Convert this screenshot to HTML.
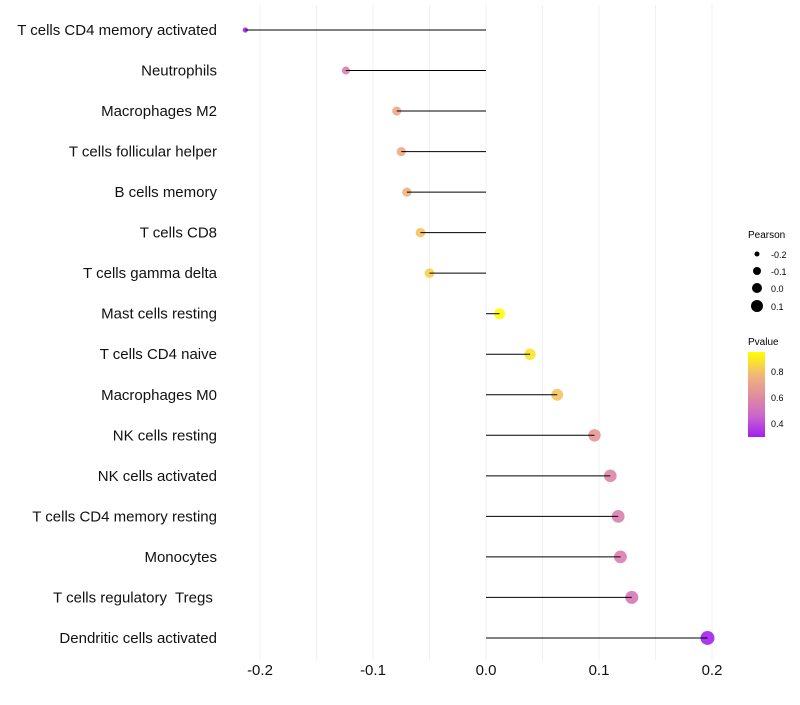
<!DOCTYPE html>
<html><head><meta charset="utf-8"><style>
body{margin:0;background:#fff;font-family:"Liberation Sans",sans-serif;}
svg text{font-family:"Liberation Sans",sans-serif;white-space:pre;}
</style></head><body>
<svg id="chart" width="800" height="700">
<defs><linearGradient id="pg" x1="0" y1="1" x2="0" y2="0">
<stop offset="0" stop-color="#a020f0"/><stop offset="0.25" stop-color="#cc66cc"/>
<stop offset="0.47" stop-color="#e08aa0"/><stop offset="0.7" stop-color="#f0b080"/>
<stop offset="1" stop-color="#ffff00"/></linearGradient></defs>
<g id="grid"></g><g id="marks"></g><g id="labels"></g><g id="ticks"></g>
<g>
<text x="748" y="238" font-size="10">Pearson</text>
<circle cx="757" cy="254" r="2.5" fill="#000"/><text x="771" y="258" font-size="9">-0.2</text>
<circle cx="757" cy="271" r="4" fill="#000"/><text x="771" y="275" font-size="9">-0.1</text>
<circle cx="757" cy="288" r="5" fill="#000"/><text x="771" y="292" font-size="9">0.0</text>
<circle cx="757" cy="306" r="6" fill="#000"/><text x="771" y="310" font-size="9">0.1</text>
</g>
<g>
<text x="748" y="345" font-size="10">Pvalue</text>
<rect x="748" y="352" width="17" height="85" fill="url(#pg)"/>
<text x="771" y="375" font-size="9">0.8</text>
<text x="771" y="401" font-size="9">0.6</text>
<text x="771" y="427" font-size="9">0.4</text>
</g>
</svg>
<script>
const categories=["T cells CD4 memory activated","Neutrophils","Macrophages M2","T cells follicular helper","B cells memory","T cells CD8","T cells gamma delta","Mast cells resting","T cells CD4 naive","Macrophages M0","NK cells resting","NK cells activated","T cells CD4 memory resting","Monocytes","T cells regulatory  Tregs ","Dendritic cells activated"];
const pearson=[-0.213,-0.124,-0.079,-0.075,-0.070,-0.058,-0.050,0.012,0.039,0.063,0.096,0.110,0.117,0.119,0.129,0.196];
const pvalues=[0.30,0.55,0.72,0.73,0.75,0.80,0.83,0.94,0.88,0.80,0.65,0.58,0.55,0.55,0.52,0.30];
const xTicks=[-0.2,-0.1,0.0,0.1,0.2];
const NS="http://www.w3.org/2000/svg";
const x=v=>486+v*1130;
const y=i=>30+i*40.53;
const rad=v=>Math.sqrt(Math.max(4,28.8+103*v));
const stops=[[0.292,[160,32,240]],[0.455,[204,102,204]],[0.6,[224,138,160]],[0.75,[240,176,128]],[0.946,[255,255,0]]];
function col(p){p=Math.max(0.292,Math.min(0.946,p));for(let k=0;k<stops.length-1;k++){const a=stops[k],b=stops[k+1];if(p<=b[0]){const t=(p-a[0])/(b[0]-a[0]);return "rgb("+a[1].map((c,j)=>Math.round(c+(b[1][j]-c)*t)).join(",")+")";}}return "rgb(255,255,0)";}
function mk(tag,at,parent){const e=document.createElementNS(NS,tag);for(const k in at)e.setAttribute(k,at[k]);document.getElementById(parent).appendChild(e);return e;}
for(let v=-0.2;v<=0.2001;v+=0.05){const g=mk("line",{x1:x(v),x2:x(v),y1:5,y2:660,stroke:"#f0f0f0","stroke-width":1},"grid");

}
xTicks.forEach(t=>{const e=mk("text",{x:x(t),y:675,"font-size":15,"text-anchor":"middle",fill:"#111"},"ticks");e.textContent=t.toFixed(1);

});
categories.forEach((c,i)=>{const t=mk("text",{x:217,y:y(i)+5,"font-size":15,"text-anchor":"end",fill:"#111"},"labels");t.textContent=c;


const d=mk("circle",{cx:x(pearson[i]),cy:y(i),r:rad(pearson[i]),fill:col(pvalues[i]),"fill-opacity":0.9},"marks");


const l=mk("line",{x1:x(0),x2:x(pearson[i]),y1:y(i),y2:y(i),stroke:"#000","stroke-width":1},"marks");

});
</script>
</body></html>
